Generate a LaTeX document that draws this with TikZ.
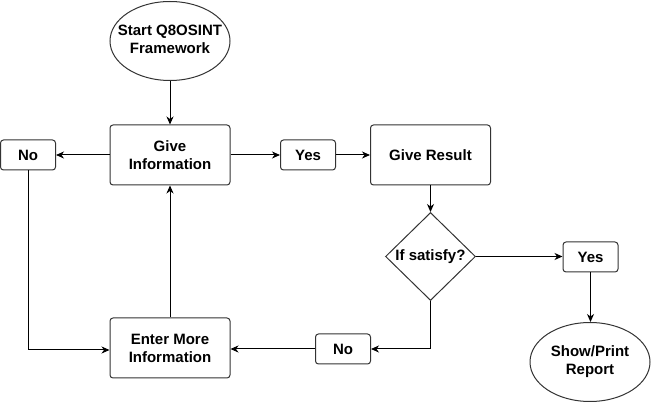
\documentclass[tikz,border=0pt]{standalone}
\usepackage{fontspec}
\setmainfont{Liberation Sans}
\usetikzlibrary{shapes.geometric,arrows.meta}
\newcommand{\ovaltext}[1]{\makebox[0pt]{\begin{tabular}{@{}c@{}}#1\end{tabular}}}
\begin{document}
\begin{tikzpicture}[x=1pt,y=-1pt,
  every node/.style={font=\fontsize{15}{18}\selectfont\bfseries, align=center},
  box/.style={draw=black!80, line width=1pt, rounded corners=3pt, rectangle, inner sep=0pt},
  bigbox/.style={box, minimum width=120pt, minimum height=60pt},
  smallbox/.style={box, minimum width=55pt, minimum height=30pt},
  oval/.style={draw=black!80, line width=1pt, ellipse, minimum width=120pt, minimum height=79pt, inner sep=0pt},
  decision/.style={draw=black!80, line width=1pt, diamond, minimum width=90pt, minimum height=88pt, inner sep=0pt},
  conn/.style={draw=black, line width=1pt, -{Stealth[length=8pt,width=7pt,inset=2.5pt]}}
]
\useasboundingbox (0,0) rectangle (651,403);
\node[oval] (start) at (170,41) {\ovaltext{Start Q8OSINT\\Framework}};
\node[bigbox] (gi) at (170,155) {Give\\Information};
\node[smallbox] (no1) at (28,155) {No};
\node[smallbox] (yes1) at (308,155) {Yes};
\node[bigbox] (gr) at (430.5,155) {Give Result};
\node[decision] (d) at (430.5,256.5) {\makebox[0pt]{If satisfy?}};
\node[smallbox] (yes2) at (590.5,257) {Yes};
\node[oval] (sp) at (590,362) {\ovaltext{Show/Print\\Report}};
\node[smallbox] (no2) at (343,349) {No};
\node[bigbox] (em) at (170,348) {Enter More\\Information};

\draw[conn] (start.south) -- (gi.north);
\draw[conn] (gi.west) -- (no1.east);
\draw[conn] (gi.east) -- (yes1.west);
\draw[conn] (yes1.east) -- (gr.west);
\draw[conn] (gr.south) -- (d.north);
\draw[conn] (d.east) -- (d.east -| yes2.west);
\draw[conn] (yes2.south) -- (yes2.south |- sp.north);
\draw[conn] (d.south) |- (no2.east);
\draw[conn] (no2.west) -- (no2.west -| em.east);
\draw[conn] (em.north) -- (gi.south);
\draw[conn] (no1.south) |- (em.west |- 0,350);
\end{tikzpicture}
\end{document}
